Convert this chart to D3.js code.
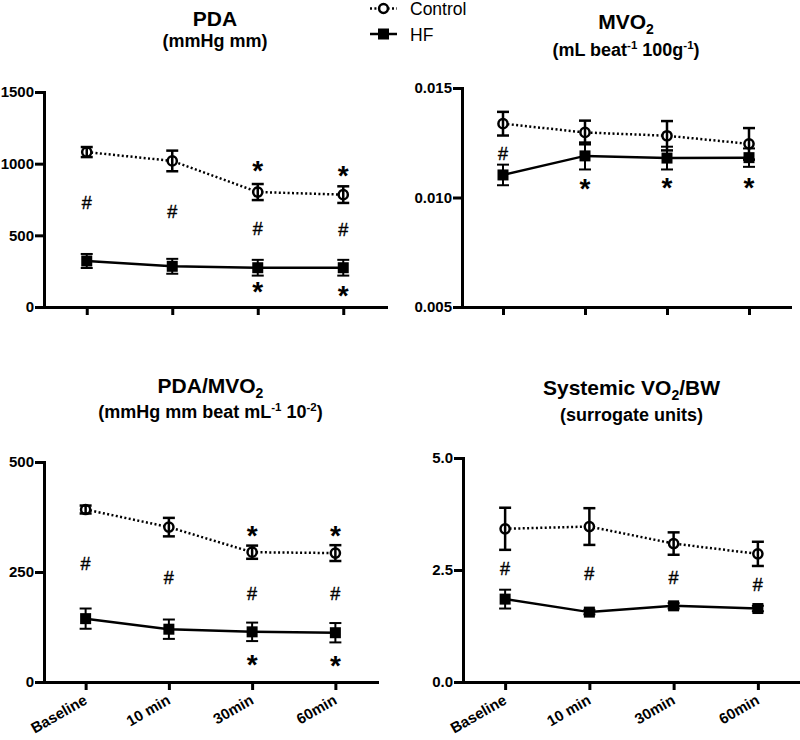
<!DOCTYPE html>
<html><head><meta charset="utf-8">
<script src="https://cdn.jsdelivr.net/npm/d3@7"></script>
<style>
body{margin:0;background:#fff}
svg{display:block}
text{font-family:"Liberation Sans", Arial, sans-serif;fill:#000}
</style>
</head><body>
<svg id="c" width="800" height="740"></svg>
<script>
// ---------------- data ----------------
const categories = ["Baseline", "10 min", "30min", "60min"];
const seriesNames = ["Control", "HF"];

// PDA (mmHg mm)
const pdaControl = [1081, 1019, 802, 784];
const pdaControlErr = [35, 72, 56, 58];
const pdaHF = [321, 284, 274, 274];
const pdaHFErr = [49, 52, 55, 55];
const pdaHash = [728, 663, 551, 540];
const pdaStarAbove = [null, null, 988, 953];
const pdaStarBelow = [null, null, 144, 121];
const pdaTicks = [0, 500, 1000, 1500];

// MVO2 (mL beat-1 100g-1)
const mvoControl = [0.01337, 0.01297, 0.01282, 0.01245];
const mvoControlErr = [0.00054, 0.00054, 0.00067, 0.00072];
const mvoHF = [0.01103, 0.01190, 0.01180, 0.01182];
const mvoHFErr = [0.00047, 0.00062, 0.00052, 0.00042];
const mvoHash = [0.01202, null, null, null];
const mvoStarAbove = [null, null, null, null];
const mvoStarBelow = [null, 0.01065, 0.01073, 0.01073];
const mvoTicks = [0.005, 0.010, 0.015];

// PDA/MVO2
const ratioControl = [392, 352, 295, 293];
const ratioControlErr = [9, 21, 15, 18];
const ratioHF = [144, 120, 114, 112];
const ratioHFErr = [23, 22, 21, 22];
const ratioHash = [270, 237, 202, 202];
const ratioStarAbove = [null, null, 345, 345];
const ratioStarBelow = [null, null, 53, 51];
const ratioTicks = [0, 250, 500];

// Systemic VO2/BW
const vo2Control = [3.42, 3.47, 3.09, 2.86];
const vo2ControlErr = [0.47, 0.41, 0.25, 0.27];
const vo2HF = [1.85, 1.56, 1.70, 1.64];
const vo2HFErr = [0.21, 0.05, 0.06, 0.06];
const vo2Hash = [2.54, 2.43, 2.33, 2.17];
const vo2StarAbove = [null, null, null, null];
const vo2StarBelow = [null, null, null, null];
const vo2Ticks = [0, 2.5, 5.0];

// ---------------- drawing ----------------
const svg = d3.select("#c");

function addRich(textSel, parts, small, shift) {
  let cur = 0;
  parts.forEach(p => {
    const t = textSel.append("tspan").text(p[0]);
    let target = 0;
    if (p[1] === "sub") { target = shift; t.attr("font-size", small); }
    else if (p[1] === "sup") { target = -shift; t.attr("font-size", small); }
    const dy = target - cur;
    if (dy !== 0) t.attr("dy", dy);
    cur = target;
  });
}

function drawPanel(cfg) {
  const x = d3.scalePoint().domain(categories).range([cfg.x0, cfg.x1]).padding(0.5);
  const y = d3.scaleLinear().domain(cfg.domain).range([cfg.yBottom, cfg.yTop]);
  const g = svg.append("g");

  // title
  const cx = (cfg.x0 + cfg.x1) / 2;
  const t1 = g.append("text").attr("x", cx).attr("y", cfg.titleY)
    .attr("text-anchor", "middle").attr("font-weight", "bold").attr("font-size", 21);
  addRich(t1, cfg.title, 14, 5);
  const t2 = g.append("text").attr("x", cx).attr("y", cfg.subY)
    .attr("text-anchor", "middle").attr("font-weight", "bold").attr("font-size", 18);
  addRich(t2, cfg.subtitle, 11.5, 7);

  // axes
  const ya = g.append("g").attr("transform", `translate(${cfg.x0},0)`)
    .call(d3.axisLeft(y).tickValues(cfg.ticks).tickFormat(cfg.fmt)
      .tickSize(9).tickSizeOuter(0).tickPadding(1));
  const xa = g.append("g").attr("transform", `translate(0,${cfg.yBottom})`)
    .call(d3.axisBottom(x).tickSize(8).tickSizeOuter(0));
  [ya, xa].forEach(a => {
    a.attr("font-size", 15).attr("font-family", "Liberation Sans, Arial, sans-serif");
    a.select(".domain").attr("stroke", "#000").attr("stroke-width", 3).attr("stroke-linecap", "square");
    a.selectAll(".tick line").attr("stroke", "#000").attr("stroke-width", 3);
    a.selectAll("text").attr("font-size", 15).attr("font-weight", "bold").attr("fill", "#000");
  });
  if (cfg.showX) {
    xa.selectAll(".tick text").attr("x", 0).attr("y", 0).attr("dy", 0)
      .attr("text-anchor", "end").attr("transform", "translate(2,21) rotate(-30)");
  } else {
    xa.selectAll(".tick text").remove();
  }

  const line = d3.line().x((d, i) => x(categories[i])).y(d => y(d));

  // HF series line (solid)
  g.append("path").datum(cfg.hf).attr("d", line).attr("fill", "none")
    .attr("stroke", "#000").attr("stroke-width", 2.5);
  // Control series line (dotted)
  g.append("path").datum(cfg.ctrl).attr("d", line).attr("fill", "none")
    .attr("stroke", "#000").attr("stroke-width", 2.5).attr("stroke-dasharray", "2,2.4");

  function errorBars(vals, errs, w) {
    const eg = g.append("g").attr("stroke", "#000").attr("stroke-width", w);
    vals.forEach((v, i) => {
      const px = x(categories[i]);
      const top = y(v + errs[i]), bot = y(v - errs[i]);
      eg.append("line").attr("x1", px).attr("x2", px).attr("y1", top).attr("y2", bot);
      eg.append("line").attr("x1", px - 6).attr("x2", px + 6).attr("y1", top).attr("y2", top);
      eg.append("line").attr("x1", px - 6).attr("x2", px + 6).attr("y1", bot).attr("y2", bot);
    });
  }

  errorBars(cfg.hf, cfg.hfErr, 2);
  cfg.hf.forEach((v, i) => {
    g.append("rect").attr("x", x(categories[i]) - 5.5).attr("y", y(v) - 5.5)
      .attr("width", 11).attr("height", 11).attr("fill", "#000");
  });

  cfg.ctrl.forEach((v, i) => {
    g.append("circle").attr("cx", x(categories[i])).attr("cy", y(v)).attr("r", 4.6)
      .attr("fill", "#fff").attr("stroke", "#000").attr("stroke-width", 2.5);
  });
  errorBars(cfg.ctrl, cfg.ctrlErr, 2.5);

  // annotations
  cfg.hash.forEach((v, i) => {
    if (v == null) return;
    g.append("text").attr("x", x(categories[i])).attr("y", y(v) + 6.5)
      .attr("text-anchor", "middle").attr("font-size", 18)
      .attr("stroke", "#000").attr("stroke-width", 0.4).text("#");
  });
  [cfg.starAbove, cfg.starBelow].forEach(arr => arr.forEach((v, i) => {
    if (v == null) return;
    g.append("text").attr("x", x(categories[i])).attr("y", y(v) + 15)
      .attr("text-anchor", "middle").attr("font-size", 28).attr("font-weight", "bold").text("*");
  }));
}

drawPanel({
  x0: 44, x1: 386, yTop: 92, yBottom: 307, domain: [0, 1500], ticks: pdaTicks,
  fmt: d3.format("d"), showX: false,
  title: [["PDA", ""]], subtitle: [["(mmHg mm)", ""]], titleY: 26, subY: 47,
  ctrl: pdaControl, ctrlErr: pdaControlErr, hf: pdaHF, hfErr: pdaHFErr,
  hash: pdaHash, starAbove: pdaStarAbove, starBelow: pdaStarBelow
});
drawPanel({
  x0: 462, x1: 790, yTop: 88, yBottom: 307, domain: [0.005, 0.015], ticks: mvoTicks,
  fmt: d3.format(".3f"), showX: false,
  title: [["MVO", ""], ["2", "sub"]],
  subtitle: [["(mL beat", ""], ["-1", "sup"], [" 100g", ""], ["-1", "sup"], [")", ""]],
  titleY: 29, subY: 56,
  ctrl: mvoControl, ctrlErr: mvoControlErr, hf: mvoHF, hfErr: mvoHFErr,
  hash: mvoHash, starAbove: mvoStarAbove, starBelow: mvoStarBelow
});
drawPanel({
  x0: 44, x1: 377, yTop: 462, yBottom: 682, domain: [0, 500], ticks: ratioTicks,
  fmt: d3.format("d"), showX: true,
  title: [["PDA/MVO", ""], ["2", "sub"]],
  subtitle: [["(mmHg mm beat mL", ""], ["-1", "sup"], [" 10", ""], ["-2", "sup"], [")", ""]],
  titleY: 393, subY: 418,
  ctrl: ratioControl, ctrlErr: ratioControlErr, hf: ratioHF, hfErr: ratioHFErr,
  hash: ratioHash, starAbove: ratioStarAbove, starBelow: ratioStarBelow
});
drawPanel({
  x0: 463, x1: 800, yTop: 458, yBottom: 682, domain: [0, 5], ticks: vo2Ticks,
  fmt: d3.format(".1f"), showX: true,
  title: [["Systemic VO", ""], ["2", "sub"], ["/BW", ""]],
  subtitle: [["(surrogate units)", ""]],
  titleY: 395, subY: 421,
  ctrl: vo2Control, ctrlErr: vo2ControlErr, hf: vo2HF, hfErr: vo2HFErr,
  hash: vo2Hash, starAbove: vo2StarAbove, starBelow: vo2StarBelow
});

// legend
const lg = svg.append("g");
const legendRows = [
  { name: seriesNames[0], y: 8.5, dotted: true },
  { name: seriesNames[1], y: 34, dotted: false }
];
legendRows.forEach(r => {
  lg.append("line").attr("x1", 370).attr("x2", 397).attr("y1", r.y).attr("y2", r.y)
    .attr("stroke", "#000").attr("stroke-width", 2.5)
    .attr("stroke-dasharray", r.dotted ? "2,2.4" : null);
  if (r.dotted) {
    lg.append("circle").attr("cx", 383.5).attr("cy", r.y).attr("r", 4.4)
      .attr("fill", "#fff").attr("stroke", "#000").attr("stroke-width", 2.5);
  } else {
    lg.append("rect").attr("x", 378).attr("y", r.y - 5.5).attr("width", 11).attr("height", 11).attr("fill", "#000");
  }
  lg.append("text").attr("x", 410).attr("y", r.y + 6.5).attr("font-size", 17.5).text(r.name);
});
</script>
</body></html>
